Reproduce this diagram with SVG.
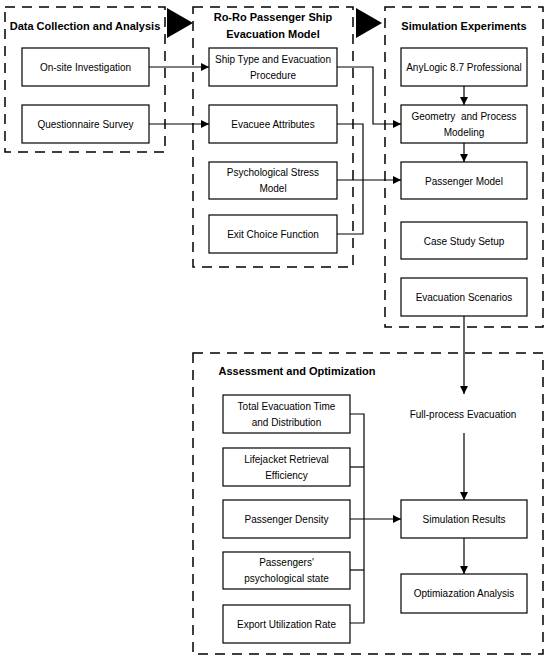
<svg xmlns="http://www.w3.org/2000/svg" width="550" height="662" viewBox="0 0 550 662">
<defs>
<marker id="ah" viewBox="0 0 10 10" refX="10" refY="5" markerWidth="8" markerHeight="8" markerUnits="userSpaceOnUse" orient="auto"><path d="M0,0 L10,5 L0,10 Z" fill="#000"/></marker>
<style>
.cont{fill:none;stroke:#000;stroke-width:1.5;stroke-dasharray:10 7}
.box{fill:#fff;stroke:#000;stroke-width:1.2}
.t{font-family:"Liberation Sans",Arial,sans-serif;font-size:10px;fill:#000;text-anchor:middle;dominant-baseline:central}
.h{font-family:"Liberation Sans",Arial,sans-serif;font-size:11px;font-weight:bold;fill:#000;text-anchor:middle;dominant-baseline:central}
.c{fill:none;stroke:#000;stroke-width:1.2}
.ca{fill:none;stroke:#000;stroke-width:1.2;marker-end:url(#ah)}
</style>
</defs>
<rect width="550" height="662" fill="#fff"/>
<g id="containers">
<g id="c1"><rect class="cont" x="5" y="7" width="160" height="145"/><text class="h" x="85" y="26">Data Collection and Analysis</text></g>
<g id="c2"><rect class="cont" x="193" y="7" width="160" height="260"/><text class="h" x="273" y="17">Ro-Ro Passenger Ship</text><text class="h" x="273" y="34">Evacuation Model</text></g>
<g id="c3"><rect class="cont" x="385" y="7" width="158" height="320"/><text class="h" x="464" y="26">Simulation Experiments</text></g>
<g id="c4"><rect class="cont" x="193" y="353" width="350" height="301"/><text class="h" x="297" y="371">Assessment and Optimization</text></g>
<path id="tri1" d="M167,8 L193,23 L167,38 Z" fill="#000"/>
<path id="tri2" d="M356,8 L382,23 L356,38 Z" fill="#000"/>
</g>
<g id="connectors">
<line class="ca" x1="149" y1="67" x2="209" y2="67"/>
<line class="ca" x1="149" y1="124" x2="209" y2="124"/>
<polyline class="ca" points="337,67 373,67 373,124 401,124"/>
<polyline class="c" points="337,124 363,124 363,234 337,234"/>
<line class="ca" x1="337" y1="180" x2="401" y2="180"/>
<line class="ca" x1="464" y1="86" x2="464" y2="105"/>
<line class="ca" x1="464" y1="143" x2="464" y2="162"/>
<line class="ca" x1="464" y1="316" x2="464" y2="394"/>
<line class="ca" x1="464" y1="433" x2="464" y2="500"/>
<line class="ca" x1="464" y1="538" x2="464" y2="574"/>
<polyline class="c" points="350,414 364,414 364,623 350,623"/>
<line class="c" x1="350" y1="467" x2="364" y2="467"/>
<line class="c" x1="350" y1="570" x2="364" y2="570"/>
<polyline class="ca" points="350,519 401,519"/>
</g>
<g id="n-onsite"><rect class="box" x="22" y="48" width="127" height="38"/><text class="t" x="85.5" y="67">On-site Investigation</text></g>
<g id="n-survey"><rect class="box" x="22" y="105" width="127" height="38"/><text class="t" x="85.5" y="124">Questionnaire Survey</text></g>
<g id="n-shiptype"><rect class="box" x="209" y="48" width="128" height="38"/><text class="t" x="273" y="59">Ship Type and Evacuation</text><text class="t" x="273" y="75">Procedure</text></g>
<g id="n-evacuee"><rect class="box" x="209" y="105" width="128" height="38"/><text class="t" x="273" y="124">Evacuee Attributes</text></g>
<g id="n-psych"><rect class="box" x="209" y="162" width="128" height="37"/><text class="t" x="273" y="172">Psychological Stress</text><text class="t" x="273" y="188">Model</text></g>
<g id="n-exit"><rect class="box" x="209" y="215" width="128" height="38"/><text class="t" x="273" y="234">Exit Choice Function</text></g>
<g id="n-anylogic"><rect class="box" x="401" y="48" width="126" height="38"/><text class="t" x="464" y="67">AnyLogic 8.7 Professional</text></g>
<g id="n-geometry"><rect class="box" x="401" y="105" width="126" height="38"/><text class="t" x="464" y="116" xml:space="preserve">Geometry  and Process</text><text class="t" x="464" y="132">Modeling</text></g>
<g id="n-passenger"><rect class="box" x="401" y="162" width="126" height="37"/><text class="t" x="464" y="181">Passenger Model</text></g>
<g id="n-case"><rect class="box" x="401" y="222" width="126" height="37"/><text class="t" x="464" y="241">Case Study Setup</text></g>
<g id="n-scen"><rect class="box" x="401" y="278" width="126" height="38"/><text class="t" x="464" y="297">Evacuation Scenarios</text></g>
<g id="n-full"><text class="t" x="463" y="414">Full-process Evacuation</text></g>
<g id="n-results"><rect class="box" x="401" y="500" width="126" height="38"/><text class="t" x="464" y="519">Simulation Results</text></g>
<g id="n-opt"><rect class="box" x="401" y="574" width="126" height="39"/><text class="t" x="464" y="593.5">Optimiazation Analysis</text></g>
<g id="n-total"><rect class="box" x="223" y="395" width="127" height="38"/><text class="t" x="286.5" y="406">Total Evacuation Time</text><text class="t" x="286.5" y="422">and Distribution</text></g>
<g id="n-life"><rect class="box" x="223" y="448" width="127" height="38"/><text class="t" x="286.5" y="459">Lifejacket Retrieval</text><text class="t" x="286.5" y="475">Efficiency</text></g>
<g id="n-density"><rect class="box" x="223" y="500" width="127" height="38"/><text class="t" x="286.5" y="519">Passenger Density</text></g>
<g id="n-pstate"><rect class="box" x="223" y="552" width="127" height="37"/><text class="t" x="286.5" y="562">Passengers'</text><text class="t" x="286.5" y="578">psychological state</text></g>
<g id="n-export"><rect class="box" x="223" y="605" width="127" height="38"/><text class="t" x="286.5" y="624">Export Utilization Rate</text></g>
</svg>
